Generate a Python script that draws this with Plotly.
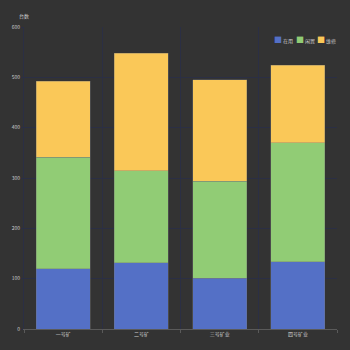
import plotly.graph_objects as go

categories = ["一号矿", "二号矿", "三号矿业", "四号矿业"]
series_names = ["在用", "闲置", "维修"]
in_use = [120, 132, 101, 134]
idle = [221, 182, 193, 236]
repair = [151, 234, 201, 154]
colors = ["#5470c6", "#91cc75", "#fac858"]
legend_x = [0.793, 0.862, 0.931]

fig = go.Figure()
for name, vals, c in zip(series_names, [in_use, idle, repair], colors):
    fig.add_trace(go.Bar(
        x=categories, y=vals, name=name, showlegend=False,
        marker=dict(color=c, line=dict(color="rgba(120,120,120,0.6)", width=0.6)),
    ))

bg = "#333333"
grid = "#2b2f44"
annotations = [dict(text="台数", x=0, xref="paper", xanchor="center",
                    y=1.038, yref="paper", yanchor="middle", showarrow=False,
                    font=dict(size=5, color="#cccccc"))]
for name, c, lx in zip(series_names, colors, legend_x):
    annotations.append(dict(
        text=f"<span style='color:{c};font-size:8px'>■</span> {name}",
        x=lx, xref="paper", xanchor="left", y=0.96, yref="paper", yanchor="middle",
        showarrow=False, font=dict(size=5, color="#cccccc")))

fig.update_layout(
    barmode="stack",
    bargap=0.31,
    width=350, height=350,
    paper_bgcolor=bg, plot_bgcolor=bg,
    margin=dict(l=20, r=13, t=27, b=19),
    font=dict(family="Noto Sans CJK SC, sans-serif", size=5, color="#cccccc"),
    showlegend=False,
    xaxis=dict(tickson="boundaries", showgrid=True, gridcolor=grid, gridwidth=1,
               showline=True, linecolor="#5a5a5a", ticks="outside", ticklen=3,
               tickcolor="#5a5a5a", tickfont=dict(size=5, color="#cccccc")),
    yaxis=dict(range=[0, 600], dtick=100, showgrid=True, gridcolor=grid, gridwidth=1,
               showline=True, linecolor=grid, zeroline=False,
               ticks="outside", ticklen=2, tickcolor=grid,
               tickfont=dict(size=5, color="#cccccc")),
    annotations=annotations,
)

fig.write_html("out.html")
